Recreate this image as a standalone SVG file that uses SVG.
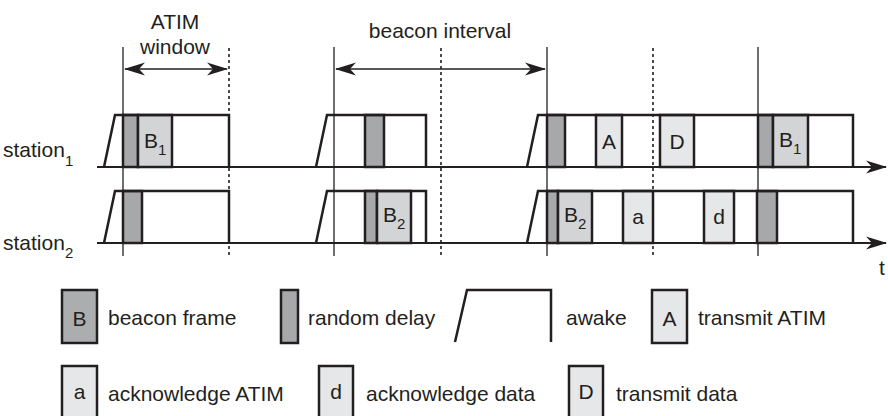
<svg xmlns="http://www.w3.org/2000/svg" width="888" height="416" viewBox="0 0 888 416">
<style>
.frame{stroke:#231f20;stroke-width:2.5}
.rd{fill:#a7a8aa}
.bc{fill:#d3d4d5}
.tx{fill:#e6e7e8}
.awake{fill:none;stroke:#231f20;stroke-width:2.5;stroke-linejoin:miter}
.axis{fill:none;stroke:#231f20;stroke-width:2}
.vl{stroke:#231f20;stroke-width:1.3}
.dl{stroke:#231f20;stroke-width:1.6;stroke-dasharray:3 3}
.dim{stroke:#231f20;stroke-width:1.6}
text{font-family:"Liberation Sans",Arial,Helvetica,sans-serif;font-size:21px;fill:#231f20}
.c{text-anchor:middle}
.sub{font-size:15px}
</style>
<defs>
<marker id="ah" markerUnits="userSpaceOnUse" markerWidth="21" markerHeight="14" viewBox="0 0 21 14" refX="20" refY="7" orient="auto-start-reverse">
<path d="M0,0.5 L21,7 L0,13.5 L6,7 Z" fill="#231f20"/>
</marker>
</defs>

<g id="guides">
<line class="vl" x1="123" y1="47" x2="123" y2="256"/>
<line class="vl" x1="334" y1="47" x2="334" y2="256"/>
<line class="vl" x1="547" y1="47" x2="547" y2="256"/>
<line class="vl" x1="758" y1="47" x2="758" y2="256"/>
<line class="dl" x1="229" y1="48" x2="229" y2="256"/>
<line class="dl" x1="441" y1="48" x2="441" y2="256"/>
<line class="dl" x1="653" y1="48" x2="653" y2="256"/>
</g>

<g id="labels">
<text x="175" y="29" class="c">ATIM</text>
<text x="175" y="54" class="c">window</text>
<text x="440" y="38" class="c">beacon interval</text>
<text id="station1" x="3" y="157">station<tspan class="sub" dy="9">1</tspan></text>
<text id="station2" x="3" y="250">station<tspan class="sub" dy="8">2</tspan></text>
<text x="882" y="275" class="c">t</text>
</g>

<g id="connectors">
<line class="dim" x1="125" y1="69" x2="227" y2="69" marker-start="url(#ah)" marker-end="url(#ah)"/>
<line class="dim" x1="336" y1="69" x2="545" y2="69" marker-start="url(#ah)" marker-end="url(#ah)"/>
<line class="axis" x1="97" y1="167" x2="886" y2="167" marker-end="url(#ah)"/>
<line class="axis" x1="97" y1="243" x2="886" y2="243" marker-end="url(#ah)"/>
</g>

<g id="station1-frames">
<rect class="frame rd" x="123" y="115" width="15" height="52"/>
<g id="s1-b1a"><rect class="frame bc" x="138" y="115" width="34" height="52"/><text x="144" y="148">B<tspan class="sub" dy="7">1</tspan></text></g>
<rect class="frame rd" x="365" y="115" width="19" height="52"/>
<rect class="frame rd" x="547" y="115" width="18" height="52"/>
<g id="s1-A"><rect class="frame tx" x="596" y="115" width="26" height="52"/><text x="609" y="149" class="c">A</text></g>
<g id="s1-D"><rect class="frame tx" x="660" y="115" width="34" height="52"/><text x="677" y="149" class="c">D</text></g>
<rect class="frame rd" x="758" y="115" width="15" height="52"/>
<g id="s1-b1b"><rect class="frame bc" x="773" y="115" width="35" height="52"/><text x="779" y="147">B<tspan class="sub" dy="7">1</tspan></text></g>
</g>

<g id="station2-frames">
<rect class="frame rd" x="123" y="191" width="19" height="52"/>
<rect class="frame rd" x="365" y="191" width="12" height="52"/>
<g id="s2-b2a"><rect class="frame bc" x="377" y="191" width="34" height="52"/><text x="383" y="222">B<tspan class="sub" dy="7">2</tspan></text></g>
<rect class="frame rd" x="547" y="191" width="11" height="52"/>
<g id="s2-b2b"><rect class="frame bc" x="558" y="191" width="34" height="52"/><text x="564" y="222">B<tspan class="sub" dy="7">2</tspan></text></g>
<g id="s2-a"><rect class="frame tx" x="623" y="191" width="30" height="52"/><text x="638" y="224" class="c">a</text></g>
<g id="s2-d"><rect class="frame tx" x="704" y="191" width="30" height="52"/><text x="719" y="224" class="c">d</text></g>
<rect class="frame rd" x="757" y="191" width="20" height="52"/>
</g>

<g id="awake-periods">
<path class="awake" d="M104,167 L115,115 L229,115 L229,167"/>
<path class="awake" d="M316,167 L327,115 L426,115 L426,167"/>
<path class="awake" d="M527,167 L538,115 L853,115 L853,167"/>
<path class="awake" d="M104,243 L115,191 L229,191 L229,243"/>
<path class="awake" d="M316,243 L327,191 L426,191 L426,243"/>
<path class="awake" d="M527,243 L538,191 L853,191 L853,243"/>
</g>

<g id="legend">
<g id="leg-B"><rect class="frame" fill="#acadaf" x="62" y="290" width="35" height="53"/><text x="79.5" y="326" class="c">B</text><text x="108" y="325">beacon frame</text></g>
<g id="leg-rd"><rect class="frame rd" x="281" y="290" width="17" height="53"/><text x="308" y="325">random delay</text></g>
<g id="leg-awake"><path class="awake" d="M455,342 L467,290 L551,290 L551,342"/><text x="566" y="325">awake</text></g>
<g id="leg-A"><rect class="frame tx" x="652" y="290" width="35" height="53"/><text x="669.5" y="326" class="c">A</text><text x="698" y="325">transmit ATIM</text></g>
<g id="leg-a"><rect class="frame tx" x="62" y="366" width="35" height="60"/><text x="79.5" y="399" class="c">a</text><text x="108" y="401">acknowledge ATIM</text></g>
<g id="leg-d"><rect class="frame tx" x="319" y="366" width="34" height="60"/><text x="336" y="399" class="c">d</text><text x="366" y="401">acknowledge data</text></g>
<g id="leg-D"><rect class="frame tx" x="569" y="366" width="34" height="60"/><text x="586" y="399" class="c">D</text><text x="616" y="401">transmit data</text></g>
</g>
</svg>
